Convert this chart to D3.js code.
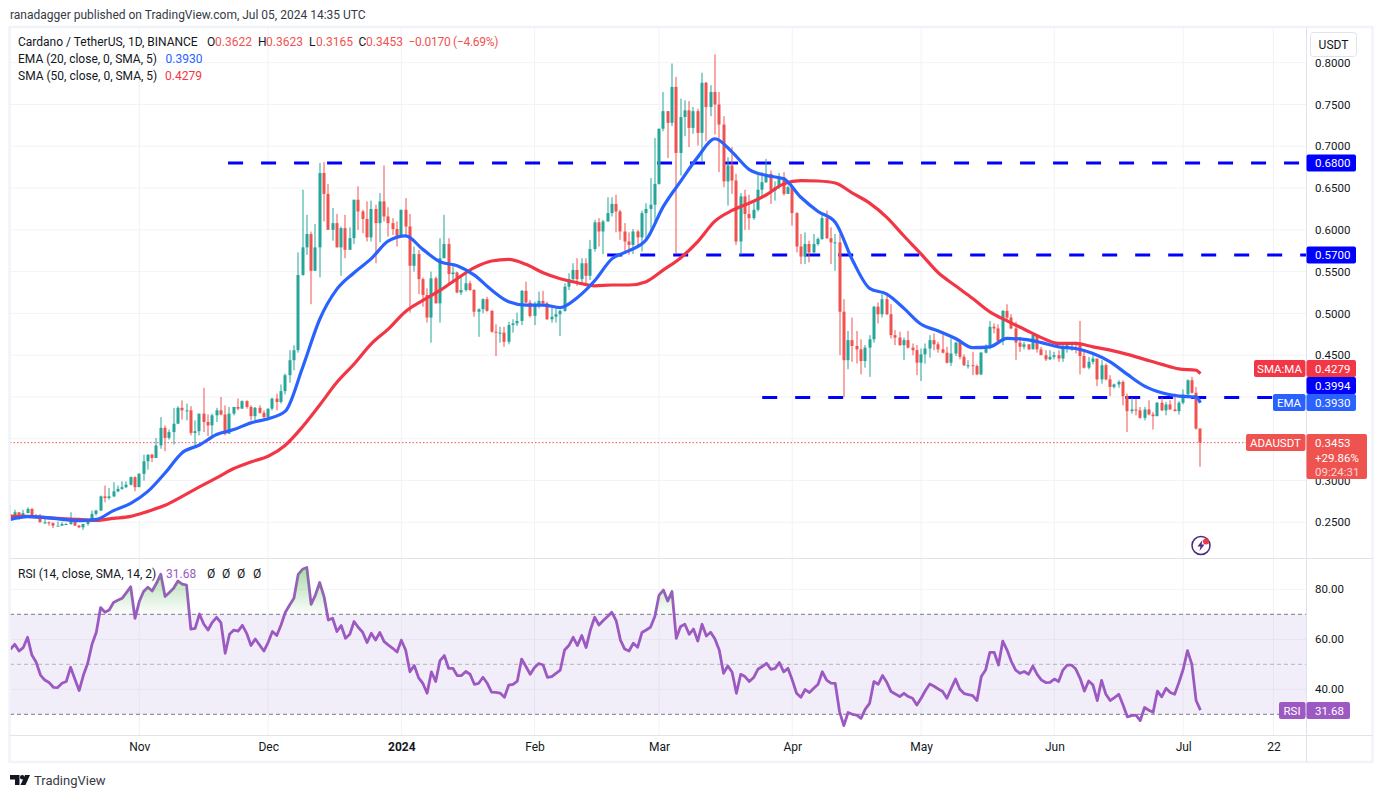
<!DOCTYPE html>
<html>
<head>
<meta charset="utf-8">
<title>ADAUSDT</title>
<style>
    html, body { margin: 0; padding: 0; background: #fff; overflow: hidden; }
    svg { display: block; }
    text { font-family: "Roboto", "Liberation Sans", sans-serif; font-size: 12px; fill: #131722; }
    .axis path { display: none; }
    .axis text { font-size: 12px; fill: #131722; }
    .price text, text.tagtext { font-size: 11.5px; }
</style>
<script src="https://d3js.org/d3.v7.min.js"></script>
</head>
<body>
<svg id="chart" width="1382" height="798"></svg>
<script>
// daily candles, first one is 2 Oct 2023, last one 5 Jul 2024
const firstDay = "2023-10-02";
const firstOpen = 0.260;

const closes = [
    .257,.262,.257,.261,.266,.258,.256,.250,.250,.249,
    .246,.246,.248,.248,.253,.246,.244,.248,.252,.260,
    .264,.281,.279,.281,.287,.290,.292,.295,.304,.292,
    .308,.323,.331,.327,.342,.363,.351,.358,.368,.387,
    .384,.384,.357,.359,.380,.370,.366,.378,.384,.379,
    .356,.380,.388,.386,.395,.388,.377,.387,.381,.376,
    .386,.398,.394,.407,.426,.444,.456,.546,.579,.595,
    .551,.579,.668,.643,.600,.608,.579,.602,.576,.590,
    .636,.622,.613,.591,.625,.608,.634,.616,.608,.601,
    .593,.624,.604,.557,.571,.541,.522,.495,.542,.512,
    .566,.583,.547,.549,.525,.528,.536,.528,.502,.505,
    .517,.503,.478,.477,.477,.466,.486,.488,.491,.527,
    .513,.497,.509,.515,.512,.493,.496,.499,.503,.532,
    .541,.552,.541,.560,.545,.577,.609,.598,.610,.620,
    .631,.622,.598,.586,.582,.598,.591,.620,.625,.630,
    .655,.721,.742,.728,.771,.692,.735,.743,.722,.742,
    .716,.776,.747,.765,.750,.726,.658,.677,.659,.586,
    .640,.619,.614,.624,.648,.657,.667,.647,.651,.663,
    .643,.651,.620,.580,.568,.583,.573,.583,.589,.614,
    .590,.585,.585,.502,.444,.468,.461,.457,.443,.459,
    .469,.508,.499,.517,.499,.474,.471,.462,.468,.459,
    .456,.441,.451,.458,.468,.463,.457,.453,.441,.452,
    .465,.448,.438,.438,.437,.427,.453,.461,.484,.482,
    .467,.503,.495,.482,.465,.460,.463,.457,.474,.457,
    .450,.445,.448,.450,.446,.458,.462,.464,.463,.449,
    .435,.442,.446,.421,.438,.421,.412,.415,.418,.401,
    .383,.385,.384,.375,.385,.379,.377,.393,.384,.391,
    .385,.383,.393,.403,.420,.405,.3622,.3453
];
const highs = [
    .271,.265,.262,.265,.268,.267,.260,.260,.257,.251,
    .250,.251,.250,.249,.262,.253,.247,.248,.253,.264,
    .265,.282,.294,.291,.298,.294,.299,.299,.305,.305,
    .309,.331,.331,.332,.351,.376,.366,.361,.387,.389,
    .396,.392,.389,.372,.380,.411,.379,.380,.387,.400,
    .390,.388,.388,.398,.396,.396,.390,.388,.390,.384,
    .386,.399,.404,.415,.428,.456,.462,.573,.648,.618,
    .598,.607,.680,.681,.655,.626,.619,.604,.618,.603,
    .636,.652,.624,.634,.635,.630,.644,.677,.627,.614,
    .610,.624,.638,.619,.580,.576,.543,.530,.550,.544,
    .590,.618,.590,.560,.550,.546,.551,.539,.529,.506,
    .518,.520,.504,.487,.484,.484,.490,.493,.501,.528,
    .538,.516,.514,.526,.527,.514,.507,.506,.504,.536,
    .548,.560,.566,.566,.566,.588,.612,.614,.612,.639,
    .639,.642,.624,.608,.597,.601,.600,.623,.632,.662,
    .710,.721,.765,.742,.799,.783,.757,.755,.754,.747,
    .745,.788,.777,.773,.810,.765,.736,.687,.699,.667,
    .644,.648,.642,.636,.669,.669,.685,.671,.658,.668,
    .669,.653,.653,.621,.595,.597,.587,.595,.591,.619,
    .623,.603,.595,.595,.517,.479,.495,.479,.469,.462,
    .474,.509,.513,.523,.522,.511,.480,.478,.471,.479,
    .464,.462,.458,.464,.474,.476,.466,.475,.460,.470,
    .466,.469,.451,.444,.454,.439,.454,.463,.491,.488,
    .487,.504,.511,.499,.490,.472,.466,.463,.476,.474,
    .460,.456,.456,.454,.456,.464,.466,.465,.466,.491,
    .456,.448,.450,.444,.444,.440,.426,.416,.420,.420,
    .404,.399,.398,.388,.388,.396,.382,.394,.399,.394,
    .396,.404,.395,.409,.421,.424,.412,.3623
];
const lows = [
    .256,.257,.253,.257,.261,.258,.256,.250,.248,.246,
    .243,.246,.246,.247,.247,.246,.243,.241,.246,.251,
    .258,.264,.274,.277,.280,.286,.289,.291,.294,.287,
    .293,.300,.313,.322,.327,.338,.335,.349,.343,.368,
    .373,.372,.354,.342,.354,.358,.353,.352,.370,.378,
    .354,.356,.378,.384,.386,.386,.372,.372,.380,.373,
    .372,.384,.384,.392,.403,.417,.432,.453,.545,.570,
    .511,.551,.543,.610,.600,.587,.579,.545,.566,.583,
    .583,.600,.596,.586,.586,.560,.585,.610,.592,.594,
    .580,.592,.592,.501,.550,.523,.508,.489,.465,.512,
    .489,.566,.536,.536,.524,.522,.526,.527,.496,.472,
    .500,.502,.477,.449,.465,.460,.463,.477,.485,.486,
    .512,.495,.486,.506,.511,.492,.489,.489,.473,.502,
    .528,.539,.533,.536,.533,.540,.574,.580,.571,.610,
    .616,.597,.588,.574,.570,.571,.580,.574,.590,.597,
    .608,.654,.718,.686,.724,.571,.665,.712,.699,.715,
    .701,.681,.706,.736,.714,.669,.651,.629,.643,.582,
    .570,.600,.600,.612,.622,.640,.656,.631,.635,.649,
    .641,.643,.605,.573,.559,.559,.561,.571,.581,.588,
    .589,.559,.551,.450,.400,.433,.442,.440,.427,.435,
    .424,.465,.488,.495,.498,.470,.462,.461,.444,.458,
    .450,.426,.419,.440,.447,.456,.453,.452,.440,.437,
    .449,.445,.437,.434,.426,.426,.426,.452,.457,.476,
    .465,.462,.492,.481,.444,.454,.457,.456,.457,.453,
    .450,.443,.444,.445,.442,.442,.453,.455,.452,.427,
    .434,.433,.439,.413,.416,.420,.401,.410,.411,.390,
    .358,.380,.378,.374,.372,.378,.361,.377,.383,.378,
    .385,.383,.379,.391,.402,.404,.361,.3165
];
const rsiValues = [
    56,58,55.3,56.7,60.8,53.7,50.8,45.7,43.7,42.7,
    40.8,40.7,42.4,43.1,48.8,44.1,39.5,45.7,50.4,58,
    62.8,72.7,70.8,71.7,74.7,75.6,76.4,78.7,81,68.4,
    75.1,79.1,80.8,79.3,82.4,86,77.1,78.7,80.4,83.3,
    82.1,81.7,64.1,64.4,70.1,66.1,63.7,66.8,68.8,66.7,
    54.4,62,63.7,63.3,65.6,62.4,57.5,60.1,57.7,55.3,
    58.8,63.1,61.5,65.7,70.8,73.7,76.4,86,88,88.7,
    74,77.7,82.7,77.1,67.7,68.4,63.1,65.5,60.4,62,
    67.1,64.7,62.8,58.7,62.4,59.7,62.7,59.1,57.7,56.4,
    54.9,59.6,55.7,47,49.5,44.7,42.4,38.4,47,43.1,
    51.5,53.5,48.4,48.4,45.5,45.5,47.1,46,42,42.4,
    44.8,42.4,38.9,38.8,38.5,36.8,41.7,42,43.3,52.1,
    49.1,46,48.7,50.3,49.7,44.8,45.1,46.4,47.7,55.7,
    57.5,60.8,57.5,61.5,56.7,63.7,68.8,65.7,67.5,69.1,
    70.8,67.5,59.7,56.1,55.3,58.4,56.8,62.7,63.7,64.8,
    69.1,77.7,79.7,75.3,79.1,60.4,65.1,66,62,64.1,
    59.3,66,61.3,62.8,60.1,55.7,46.4,49.3,46.8,38.4,
    46,45.1,43.1,44.7,48,49.1,50.4,48,48.4,50.7,
    47,48.4,43.7,38.4,36.8,39.9,38.7,40.4,42,47,
    43.7,42.5,42.4,31.1,25.5,30.7,30,29.7,28.4,32.1,
    34.4,43.1,42,45.5,42.8,39.1,38.1,37.1,38.4,37.1,
    36.4,33.7,36.4,39.5,42.1,41.2,40.1,39.1,36.4,40.4,
    44.1,40,38.3,37.9,37.5,35.5,45.1,47.7,54.8,54.8,
    49.7,59.3,55.7,51.1,47.7,46.4,47.1,46,49.3,46,
    43.7,42.7,42.8,44.1,43.1,47.7,49.7,49.7,48.1,44.4,
    39.3,43.3,41.7,35.5,43.6,38,35.5,36.7,38,33.7,
    29,29.5,29.7,27.5,32.7,31.6,30.8,39.3,37,40.4,
    38.7,38,42.7,48,55.5,50.1,35.5,31.68
];

const maDays = d3.range(0, 277, 4).concat([277]);
const emaValues = [
    .2535,.2567,.2559,.2535,.252,.2535,.264,.2727,.287,.309,
    .3333,.3425,.355,.361,.369,.374,.383,.435,.493,.529,
    .5487,.5655,.5867,.5927,.5766,.5618,.557,.5458,.528,.514,
    .510,.510,.507,.519,.539,.5652,.575,.588,.628,.658,
    .687,.709,.693,.672,.665,.661,.639,.622,.609,.5639,
    .530,.523,.506,.487,.479,.470,.459,.460,.470,.469,
    .465,.460,.458,.452,.442,.427,.413,.405,.401,.400,.393
];
const smaValues = [
    .2571,.2571,.2555,.2543,.2535,.2523,.2547,.2571,.2631,.2703,
    .2811,.2923,.3031,.3143,.3223,.3291,.3423,.3643,.3903,.4175,
    .4395,.4635,.4815,.5023,.5155,.5275,.5415,.5547,.5627,.5647,
    .5587,.5487,.5415,.5367,.533,.534,.534,.538,.552,.5664,
    .5859,.6104,.6232,.632,.642,.655,.659,.6584,.656,.644,
    .632,.615,.5926,.571,.5486,.533,.5178,.5018,.491,.481,
    .471,.464,.464,.460,.456,.451,.445,.439,.4336,.432,.4279
];

const gridPrices = [0.8, 0.75, 0.7, 0.65, 0.6, 0.55, 0.5, 0.45, 0.4, 0.35, 0.3, 0.25];
// 0.40 and 0.35 sit behind the price tags in the original
const priceTicks = [0.8, 0.75, 0.7, 0.65, 0.6, 0.55, 0.5, 0.45, 0.3, 0.25];
const rsiTicks = [80, 60, 40];
const levels = [
    { price: 0.68, from: "2023-11-21T16:00Z" },
    { price: 0.57, from: "2024-02-17T22:00Z" },
    { price: 0.3994, from: "2024-03-25T00:00Z" }
];
const timeTicks = ["2023-11-01","2023-12-01","2024-01-01","2024-02-01","2024-03-01","2024-04-01","2024-05-01","2024-06-01","2024-07-01","2024-07-22"];
const timeLabels = ["Nov","Dec","2024","Feb","Mar","Apr","May","Jun","Jul","22"];

const UP = "#26a69a", DOWN = "#ef5350", BLUE = "#2962ff", RED = "#f23645", PURPLE = "#9c59c2";
const LEVEL = "#0000ff", GRID = "#f2f3f7", LINE = "#e0e3eb";

// pane geometry
const plotLeft = 10, axisX = 1306.5, plotRight = 1372.5, plotTop = 27.5;
const paneBreak = 558, timeTop = 735, plotBottom = 762;

const svg = d3.select("#chart");
const parse = d3.utcParse("%Y-%m-%d");
const start = parse(firstDay);
const dates = closes.map((c, i) => d3.utcDay.offset(start, i));
const opens = closes.map((c, i) => i ? closes[i - 1] : firstOpen);

const x = d3.scaleUtc()
    .domain([start, parse("2024-07-22")])
    .range([10.4, 10.4 + 4.296 * 294]);
const y = d3.scaleLinear().domain([0.8, 0.25]).range([62.7, 522.3]);
const r = d3.scaleLinear().domain([80, 40]).range([589.3, 689.3]);
const maLine = d3.line().x((d, i) => x(dates[maDays[i]])).y(d => y(d)).curve(d3.curveMonotoneX);

// clip paths + gradient
const defs = svg.append("defs");
defs.append("clipPath").attr("id", "plot").append("rect")
    .attr("x", plotLeft).attr("y", plotTop).attr("width", axisX - plotLeft).attr("height", plotBottom - plotTop);
defs.append("clipPath").attr("id", "over70").append("rect")
    .attr("x", plotLeft).attr("y", paneBreak).attr("width", axisX - plotLeft).attr("height", r(70) - paneBreak);
const grad = defs.append("linearGradient").attr("id", "obFill")
    .attr("gradientUnits", "userSpaceOnUse").attr("x1", 0).attr("x2", 0).attr("y1", r(88)).attr("y2", r(70));
grad.append("stop").attr("offset", 0).attr("stop-color", "#4caf50").attr("stop-opacity", 0.45);
grad.append("stop").attr("offset", 1).attr("stop-color", "#4caf50").attr("stop-opacity", 0.02);

const plot = svg.append("g").attr("clip-path", "url(#plot)");

// grid
plot.selectAll(".hgrid").data(gridPrices).enter().append("line")
    .attr("x1", plotLeft).attr("x2", axisX).attr("y1", d => y(d)).attr("y2", d => y(d))
    .attr("stroke", GRID);
plot.selectAll(".rgrid").data(rsiTicks).enter().append("line")
    .attr("x1", plotLeft).attr("x2", axisX).attr("y1", d => r(d)).attr("y2", d => r(d))
    .attr("stroke", GRID);
plot.selectAll(".vgrid").data(timeTicks).enter().append("line")
    .attr("x1", d => x(parse(d))).attr("x2", d => x(parse(d)))
    .attr("y1", plotTop).attr("y2", timeTop).attr("stroke", GRID);

// RSI band
plot.append("rect").attr("x", plotLeft).attr("width", axisX - plotLeft)
    .attr("y", r(70)).attr("height", r(30) - r(70))
    .attr("fill", "#7e57c2").attr("opacity", 0.1);

// support / resistance levels
plot.selectAll(".level").data(levels).enter().append("line")
    .attr("x1", d => x(new Date(d.from))).attr("x2", axisX)
    .attr("y1", d => y(d.price)).attr("y2", d => y(d.price))
    .attr("stroke", LEVEL).attr("stroke-width", 3).attr("stroke-dasharray", "15 18");

// last price line
plot.append("line").attr("x1", plotLeft).attr("x2", 1246)
    .attr("y1", y(0.3453)).attr("y2", y(0.3453))
    .attr("stroke", DOWN).attr("stroke-dasharray", "1.5 2");

// candles
const candle = plot.selectAll(".candle").data(closes).enter().append("g")
    .attr("fill", (d, i) => d >= opens[i] ? UP : DOWN);
candle.append("rect")
    .attr("x", (d, i) => Math.round(x(dates[i])) - 0.5).attr("width", 1)
    .attr("y", (d, i) => y(highs[i])).attr("height", (d, i) => y(lows[i]) - y(highs[i]));
candle.append("rect")
    .attr("x", (d, i) => Math.round(x(dates[i])) - 1.5).attr("width", 3)
    .attr("y", (d, i) => y(Math.max(d, opens[i])))
    .attr("height", (d, i) => Math.max(1, Math.abs(y(d) - y(opens[i]))));

// EMA and SMA
plot.append("path").attr("d", maLine(smaValues))
    .attr("fill", "none").attr("stroke", RED).attr("stroke-width", 3.2).attr("stroke-linejoin", "round");
plot.append("path").attr("d", maLine(emaValues))
    .attr("fill", "none").attr("stroke", BLUE).attr("stroke-width", 3.2).attr("stroke-linejoin", "round");

// RSI pane
plot.selectAll(".rsilevel").data([70, 50, 30]).enter().append("line")
    .attr("x1", plotLeft).attr("x2", axisX).attr("y1", d => r(d)).attr("y2", d => r(d))
    .attr("stroke", d => d == 50 ? "#b2b5be" : "#787b86").attr("stroke-dasharray", "4 3");
svg.append("path")
    .attr("clip-path", "url(#over70)")
    .attr("d", d3.area().x((d, i) => x(dates[i])).y0(r(70)).y1(d => r(d))(rsiValues))
    .attr("fill", "url(#obFill)");
plot.append("path")
    .attr("d", d3.line().x((d, i) => x(dates[i])).y(d => r(d))(rsiValues))
    .attr("fill", "none").attr("stroke", PURPLE).attr("stroke-width", 2.8).attr("stroke-linejoin", "round");

// frame and pane separators
const frameG = svg.append("g").attr("fill", "none");
frameG.append("rect").attr("x", plotLeft - 0.5).attr("y", plotTop - 0.5).attr("width", plotRight - plotLeft + 0.5).attr("height", plotBottom - plotTop + 0.5)
    .attr("stroke", "#f0f3fa").attr("stroke-width", 2.5);
frameG.append("line").attr("x1", axisX).attr("x2", axisX).attr("y1", plotTop).attr("y2", plotBottom).attr("stroke", LINE);
frameG.append("line").attr("x1", plotLeft).attr("x2", plotRight).attr("y1", paneBreak + 0.5).attr("y2", paneBreak + 0.5).attr("stroke", LINE);
frameG.append("line").attr("x1", plotLeft).attr("x2", plotRight).attr("y1", timeTop + 0.5).attr("y2", timeTop + 0.5).attr("stroke", LINE);

// axes
svg.append("g").attr("class", "axis price").attr("transform", "translate(" + (axisX + 8.5) + ",0)")
    .call(d3.axisRight(y).tickValues(priceTicks).tickSize(0).tickPadding(0).tickFormat(d3.format(".4f")));
svg.append("g").attr("class", "axis price").attr("transform", "translate(" + (axisX + 8.5) + ",0)")
    .call(d3.axisRight(r).tickValues(rsiTicks).tickSize(0).tickPadding(0).tickFormat(d3.format(".2f")));
svg.append("g").attr("class", "axis").attr("transform", "translate(0," + (timeTop + 4) + ")")
    .call(d3.axisBottom(x).tickValues(timeTicks.map(parse)).tickSize(0).tickPadding(3).tickFormat((d, i) => timeLabels[i]))
    .selectAll("text").style("font-weight", (d, i) => timeLabels[i] == "2024" ? "700" : "400");

// price tags on the axis
function tag(x0, x1, y0, y1, fill) {
    svg.append("rect").attr("x", x0).attr("y", y0).attr("width", x1 - x0).attr("height", y1 - y0)
        .attr("rx", 2).attr("fill", fill);
}
function label(px, py, str, fill, anchor) {
    const t = svg.append("text").attr("x", px).attr("y", py).attr("fill", fill).style("fill", fill).text(str);
    if (anchor) t.attr("text-anchor", anchor);
    return t;
}
function tagLabel(px, py, str, fill, anchor) {
    return label(px, py, str, fill, anchor).attr("class", "tagtext");
}
levels.slice(0, 2).forEach(d => {
    tag(axisX, 1356, y(d.price) - 8.5, y(d.price) + 8.5, LEVEL);
    tagLabel(1315, y(d.price) + 4.3, d3.format(".4f")(d.price), "#fff");
});
tag(1254, 1305.5, 360, 377, RED);
tag(axisX, 1356, 360, 377, RED);
tagLabel(1279.5, 372.5, "SMA:MA", "#fff", "middle");
tagLabel(1315, 372.5, "0.4279", "#fff");
tag(axisX, 1356, 377, 394, LEVEL);
tagLabel(1315, 389.7, "0.3994", "#fff");
tag(1273, 1305.5, 394, 411, BLUE);
tag(axisX, 1356, 394, 411, BLUE);
tagLabel(1289, 406.5, "EMA", "#fff", "middle");
tagLabel(1315, 406.7, "0.3930", "#fff");
tag(1246, 1305.5, 434, 451, DOWN);
tag(axisX, 1367, 434, 479, DOWN);
tagLabel(1275.5, 447, "ADAUSDT", "#fff", "middle");
tagLabel(1315, 447, "0.3453", "#fff");
tagLabel(1315, 462, "+29.86%", "#fff");
tagLabel(1315, 476, "09:24:31", "#fbd5d4");
tag(1279, 1305.5, 702, 719, PURPLE);
tag(axisX, 1350, 702, 719, PURPLE);
tagLabel(1292, 714.5, "RSI", "#fff", "middle");
tagLabel(1315, 714.5, "31.68", "#fff");

// currency button
svg.append("rect").attr("x", 1310.5).attr("y", 32.5).attr("width", 46).attr("height", 24).attr("rx", 3)
    .attr("fill", "#fff").attr("stroke", LINE);
label(1333.5, 48.5, "USDT", "#131722", "middle");

// top title and legends
label(10, 19, "ranadagger published on TradingView.com, Jul 05, 2024 14:35 UTC", "#363a45");
label(18, 46, "Cardano / TetherUS, 1D, BINANCE", "#131722");
[["O", "0.3622", 207, 215], ["H", "0.3623", 258, 266], ["L", "0.3165", 309, 316], ["C", "0.3453", 358.5, 366]].forEach(d => {
    label(d[2], 46, d[0], "#131722");
    label(d[3], 46, d[1], DOWN);
});
label(408.5, 46, "\u22120.0170 (\u22124.69%)", DOWN).attr("textLength", 90);
label(18, 63, "EMA (20, close, 0, SMA, 5)", "#131722");
label(165.5, 63, "0.3930", BLUE);
label(18, 80, "SMA (50, close, 0, SMA, 5)", "#131722");
label(165, 80, "0.4279", RED);
label(18, 578, "RSI (14, close, SMA, 14, 2)", "#131722");
label(166, 578, "31.68", PURPLE);
[207, 222, 237, 253].forEach(px => label(px, 578, "\u00d8", "#131722"));

// "latest news" marker
const mark = svg.append("g").attr("transform", "translate(1201,545.5)");
mark.append("circle").attr("r", 9).attr("fill", "#fff").attr("stroke", "#4a2a82").attr("stroke-width", 1.5);
mark.append("path").attr("d", "M1.5 -5.5 L-3.5 1 H-0.5 L-1.5 5.5 L3.5 -1 H0.5 Z").attr("fill", "#4a2a82");
mark.append("circle").attr("cx", 5).attr("cy", -4).attr("r", 3).attr("fill", RED);

// footer logo
const logo = svg.append("g").attr("fill", "#131722");
logo.append("path").attr("d", "M10 775 H19.5 V785 H15 V779.5 H10 Z");
logo.append("circle").attr("cx", 22.2).attr("cy", 777.2).attr("r", 2.2);
logo.append("path").attr("d", "M25 775 H30 L25.5 785 H20.5 Z");
label(34, 785, "TradingView", "#363a45").style("font-size", "13px");
</script>
</body>
</html>
